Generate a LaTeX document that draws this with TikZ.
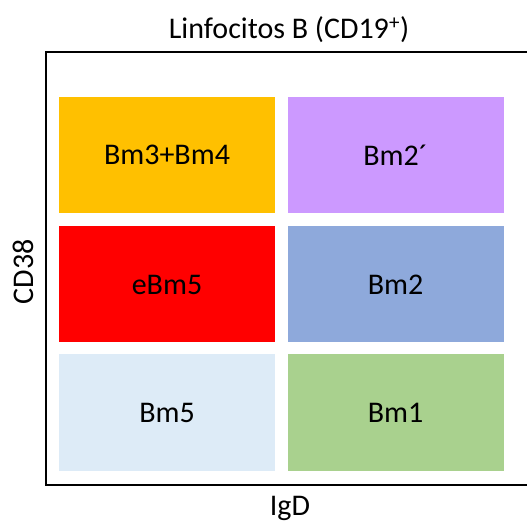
\documentclass[tikz,border=0pt]{standalone}
\usepackage{fontspec}
\setmainfont{Carlito}
\definecolor{bmorange}{HTML}{FFC000}
\definecolor{bmpurple}{HTML}{CC99FF}
\definecolor{bmred}{HTML}{FF0000}
\definecolor{bmblue}{HTML}{8EA9DB}
\definecolor{bmpale}{HTML}{DDEBF7}
\definecolor{bmgreen}{HTML}{A9D18E}
\tikzset{
	subset/.style={minimum width = 216pt, minimum height = 116pt, inner sep = 0pt, font=\fontsize{30}{36}\selectfont},
	axislabel/.style={font=\fontsize{30}{36}\selectfont, anchor=base}
}
\begin{document}
\begin{tikzpicture}[x=1pt, y=1pt]
		\useasboundingbox (0,0) rectangle (527,522);

		% frame of the plot
		\draw [line width = 1.6pt] (527,470) -- (46,470) -- (46,37) -- (527,37);

		\draw (167,367) node[subset, fill=bmorange] (bm34) {Bm3+Bm4};
		\draw (395.5,367) node[subset, fill=bmpurple] (bm2p) {Bm2´};
		\draw (167,237.5) node[subset, fill=bmred] (ebm5) {eBm5};
		\draw (395.5,237.5) node[subset, fill=bmblue] (bm2) {Bm2};
		\draw (167,109.5) node[subset, fill=bmpale] (bm5) {Bm5};
		\draw (395.5,109.5) node[subset, fill=bmgreen] (bm1) {Bm1};

		\draw (289,483) node[axislabel] (title) {Linfocitos B (CD19\textsuperscript{+})};
		\draw (33,250) node[axislabel, rotate=90] (cd38) {CD38};
		\draw (290,7) node[axislabel] (igd) {IgD};
	\end{tikzpicture}
\end{document}
